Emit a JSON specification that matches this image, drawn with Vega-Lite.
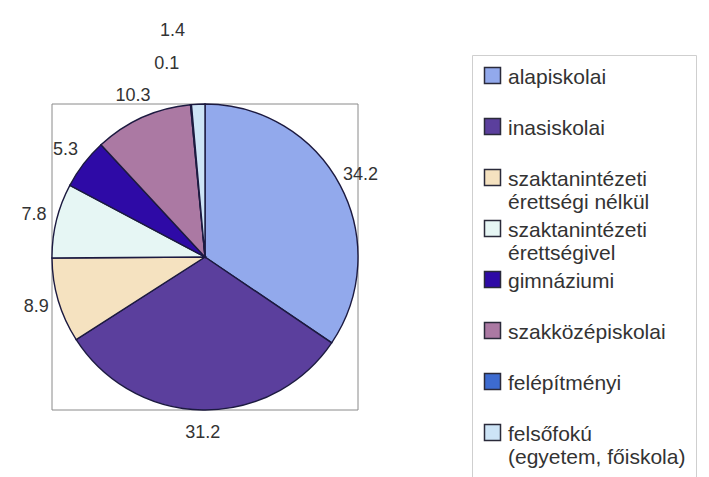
{
  "$schema": "https://vega.github.io/schema/vega-lite/v6.json",
  "width": 306,
  "height": 306,
  "autosize": {"type": "none"},
  "padding": {"left": 52, "top": 104, "right": 351, "bottom": 67},
  "background": "white",
  "config": {
    "view": {"stroke": null},
    "font": "Liberation Sans"
  },
  "data": {
    "values": [
      {"cat": "alapiskolai", "value": 34.2},
      {"cat": "inasiskolai", "value": 31.2},
      {"cat": "szaktanintézeti érettségi nélkül", "value": 8.9},
      {"cat": "szaktanintézeti érettségivel", "value": 7.8},
      {"cat": "gimnáziumi", "value": 5.3},
      {"cat": "szakközépiskolai", "value": 10.3},
      {"cat": "felépítményi", "value": 0.1},
      {"cat": "felsőfokú (egyetem, főiskola)", "value": 1.4}
    ]
  },
  "layer": [
    {
      "data": {"values": [{}]},
      "mark": {"type": "rect", "fill": null, "stroke": "#8a8a8a", "strokeWidth": 1},
      "encoding": {
        "x": {"value": 0},
        "x2": {"value": "width"},
        "y": {"value": 0},
        "y2": {"value": "height"}
      }
    },
    {
      "transform": [{"window": [{"op": "row_number", "as": "idx"}]}],
      "encoding": {
        "theta": {"field": "value", "type": "quantitative", "stack": true},
        "order": {"field": "idx", "type": "quantitative"}
      },
      "layer": [
        {
          "mark": {"type": "arc", "outerRadius": 153, "stroke": "#1c1a40", "strokeWidth": 1.4},
          "encoding": {
            "color": {
              "field": "cat",
              "type": "nominal",
              "scale": {
                "domain": [
                  "alapiskolai",
                  "inasiskolai",
                  "szaktanintézeti érettségi nélkül",
                  "szaktanintézeti érettségivel",
                  "gimnáziumi",
                  "szakközépiskolai",
                  "felépítményi",
                  "felsőfokú (egyetem, főiskola)"
                ],
                "range": ["#92a9ec", "#5b3f9d", "#f5e2c0", "#e6f6f4", "#2e0aa6", "#ab79a3", "#3d6bd0", "#cde4f6"]
              },
              "legend": {
                "orient": "none",
                "legendX": 420,
                "legendY": -49,
                "title": null,
                "direction": "vertical",
                "gridAlign": "all",
                "padding": 10,
                "strokeColor": "#cfcfcf",
                "fillColor": "white",
                "symbolType": "square",
                "symbolSize": 256,
                "symbolStrokeColor": "#2a2a3a",
                "symbolStrokeWidth": 1.5,
                "symbolOpacity": 1,
                "labelFont": "Liberation Sans",
                "labelFontSize": 21,
                "labelColor": "#333333",
                "labelLimit": 400,
                "labelOffset": 5,
                "labelBaseline": "alphabetic",
                "rowPadding": 4,
                "labelExpr": "datum.label == 'szaktanintézeti érettségi nélkül' ? ['szaktanintézeti', 'érettségi nélkül'] : datum.label == 'szaktanintézeti érettségivel' ? ['szaktanintézeti', 'érettségivel'] : datum.label == 'felsőfokú (egyetem, főiskola)' ? ['felsőfokú', '(egyetem, főiskola)'] : datum.label",
                "encode": {
                  "labels": {"update": {"dy": {"value": 8}, "lineHeight": {"value": 23}}}
                }
              }
            }
          }
        },
        {
          "mark": {"type": "text", "radius": 176, "fontSize": 18, "fill": "#333333"},
          "encoding": {
            "text": {
              "condition": {"test": "datum.value >= 1.5", "field": "value", "type": "quantitative", "format": ".1f"},
              "value": ""
            }
          }
        },
        {
          "mark": {"type": "text", "radius": 194, "fontSize": 18, "fill": "#333333", "align": "right", "dx": -8},
          "encoding": {
            "text": {
              "condition": {"test": "datum.cat == 'felépítményi'", "field": "value", "type": "quantitative", "format": ".1f"},
              "value": ""
            }
          }
        },
        {
          "mark": {"type": "text", "radius": 226, "fontSize": 18, "fill": "#333333", "align": "right", "dx": -10},
          "encoding": {
            "text": {
              "condition": {"test": "datum.cat == 'felsőfokú (egyetem, főiskola)'", "field": "value", "type": "quantitative", "format": ".1f"},
              "value": ""
            }
          }
        }
      ]
    }
  ]
}
